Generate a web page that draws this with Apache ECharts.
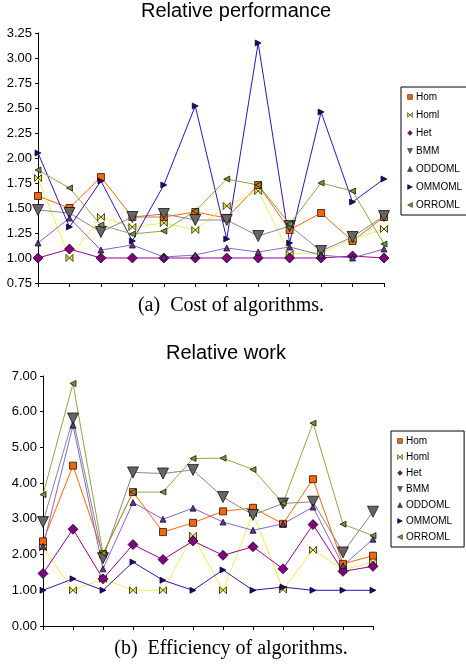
<!DOCTYPE html>
<html>
<head>
<meta charset="utf-8">
<script src="https://cdn.jsdelivr.net/npm/echarts@6/dist/echarts.min.js"></script>
<style>
  html, body { margin: 0; padding: 0; background: #fff; }
  #chart { width: 466px; height: 666px; }
</style>
</head>
<body>
<div id="chart"></div>
<script>
const categories = ['1', '2', '3', '4', '5', '6', '7', '8', '9', '10', '11', '12']
const seriesNames = ['Hom', 'Homl', 'Het', 'BMM', 'ODDOML', 'OMMOML', 'ORROML']

// (a) relative performance
const costHom    = [1.62, 1.50, 1.81, 1.41, 1.41, 1.46, 1.40, 1.73, 1.28, 1.45, 1.17, 1.41]
const costHoml   = [1.80, 1.00, 1.41, 1.31, 1.35, 1.28, 1.52, 1.67, 1.04, 1.05, 1.19, 1.29]
const costHet    = [1.00, 1.09, 1.00, 1.00, 1.00, 1.00, 1.00, 1.00, 1.00, 1.00, 1.02, 1.00]
const costBMM    = [1.48, 1.45, 1.26, 1.41, 1.44, 1.38, 1.38, 1.22, 1.32, 1.07, 1.21, 1.42]
const costODDOML = [1.15, 1.40, 1.08, 1.13, 1.01, 1.03, 1.10, 1.06, 1.11, 1.03, 1.00, 1.09]
const costOMMOML = [2.05, 1.31, 1.77, 1.17, 1.73, 2.52, 1.19, 3.15, 1.15, 2.46, 1.56, 1.79]
const costORROML = [1.88, 1.70, 1.33, 1.24, 1.27, 1.47, 1.79, 1.73, 1.34, 1.75, 1.67, 1.14]

// (b) relative work
const workHom    = [2.37, 4.49, 2.01, 3.75, 2.63, 2.89, 3.21, 3.31, 2.86, 4.11, 1.74, 1.97]
const workHoml   = [2.20, 1.00, 1.32, 1.00, 1.00, 2.53, 1.00, 3.16, 1.02, 2.13, 1.58, 1.78]
const workHet    = [1.47, 2.71, 1.32, 2.28, 1.86, 2.38, 1.98, 2.22, 1.60, 2.84, 1.53, 1.67]
const workBMM    = [2.91, 5.81, 1.90, 4.30, 4.27, 4.37, 3.61, 3.11, 3.43, 3.48, 2.06, 3.20]
const workODDOML = [2.23, 5.62, 1.60, 3.46, 2.99, 3.30, 2.91, 2.68, 2.86, 3.33, 1.69, 2.43]
const workOMMOML = [1.00, 1.32, 1.00, 1.79, 1.28, 1.00, 1.57, 1.00, 1.09, 1.00, 1.00, 1.00]
const workORROML = [3.68, 6.79, 2.04, 3.75, 3.75, 4.69, 4.70, 4.38, 3.44, 5.68, 2.85, 2.53]

const costData = [costHom, costHoml, costHet, costBMM, costODDOML, costOMMOML, costORROML]
const workData = [workHom, workHoml, workHet, workBMM, workODDOML, workOMMOML, workORROML]

const BOWTIE = 'path://M0,0L5,5L0,10ZM10,0L5,5L10,10Z'
const STYLES = {
  Hom:    { line: '#ff6600', fill: '#ff6600', symbol: 'rect', size: 7, rotate: 0 },
  Homl:   { line: '#eeee55', fill: '#e6e64a', symbol: BOWTIE, size: 7, rotate: 0 },
  Het:    { line: '#990099', fill: '#800080', symbol: 'diamond', size: 10, rotate: 0 },
  BMM:    { line: '#888888', fill: '#666666', symbol: 'triangle', size: 11, rotate: 180 },
  ODDOML: { line: '#8866cc', fill: '#663399', symbol: 'triangle', size: 6, rotate: 0 },
  OMMOML: { line: '#3311bb', fill: '#220088', symbol: 'triangle', size: 6, rotate: -90 },
  ORROML: { line: '#88aa44', fill: '#779933', symbol: 'triangle', size: 6, rotate: 90 },
}

const sans = 'Liberation Sans, Arial, sans-serif'
const serif = 'Liberation Serif, Times New Roman, serif'

function makeSeries(dataList, gridIdx) {
  return seriesNames.map((name, i) => {
    const s = STYLES[name]
    return {
      name,
      type: 'line',
      xAxisIndex: gridIdx,
      yAxisIndex: gridIdx,
      data: dataList[i],
      symbol: s.symbol,
      symbolSize: s.size,
      symbolRotate: s.rotate,
      showAllSymbol: true,
      lineStyle: { color: s.line, width: 1 },
      itemStyle: { color: s.fill, borderColor: '#000', borderWidth: 0.7 },
      emphasis: { disabled: true },
      animation: false,
    }
  })
}

function makeXAxis(gridIdx) {
  return {
    type: 'category',
    gridIndex: gridIdx,
    data: categories,
    boundaryGap: false,
    axisLine: { lineStyle: { color: '#000', width: 1 } },
    axisTick: { show: true, length: 4, lineStyle: { color: '#000' }, alignWithLabel: true },
    axisLabel: { show: false },
    splitLine: { show: false },
  }
}

function makeYAxis(gridIdx, min, max, interval, margin) {
  return {
    type: 'value',
    gridIndex: gridIdx,
    min, max, interval,
    axisLine: { show: true, lineStyle: { color: '#000', width: 1 } },
    axisTick: { show: true, length: 3, lineStyle: { color: '#000' } },
    axisLabel: {
      color: '#000', fontFamily: sans, fontSize: 13, margin,
      formatter: v => v.toFixed(2),
    },
    splitLine: { show: false },
  }
}

function makeLegend(top, left, gap) {
  return {
    data: seriesNames,
    orient: 'vertical',
    top, left,
    itemWidth: 6,
    itemHeight: 6,
    itemGap: gap,
    padding: [5, 12, 5, 5],
    borderColor: '#000',
    borderWidth: 1,
    lineStyle: { opacity: 0 },
    itemStyle: { borderWidth: 0.5 },
    textStyle: { color: '#000', fontFamily: sans, fontSize: 10, padding: [0, 0, 0, -2] },
    selectedMode: false,
  }
}

function caption(text, x, y, font) {
  return {
    type: 'text', x, y,
    style: { text, font, fill: '#000', textAlign: 'center', textVerticalAlign: 'top' },
  }
}

const chart = echarts.init(document.getElementById('chart'), null, { renderer: 'canvas' })

chart.setOption({
  backgroundColor: '#fff',
  animation: false,
  graphic: [
    caption('Relative performance', 236, 1, '20px ' + sans),
    caption('(a)  Cost of algorithms.', 231, 296, '20px ' + serif),
    caption('Relative work', 226, 343, '20px ' + sans),
    caption('(b)  Efficiency of algorithms.', 231, 639, '20px ' + serif),
  ],
  legend: [makeLegend(87, 401, 8), makeLegend(431, 391, 6)],
  grid: [
    { left: 38, right: 82, top: 33, height: 250 },
    { left: 43, right: 93, top: 376, height: 250 },
  ],
  xAxis: [makeXAxis(0), makeXAxis(1)],
  yAxis: [makeYAxis(0, 0.75, 3.25, 0.25, 6), makeYAxis(1, 0, 7, 1, 6)],
  series: [...makeSeries(costData, 0), ...makeSeries(workData, 1)],
})
</script>
</body>
</html>
